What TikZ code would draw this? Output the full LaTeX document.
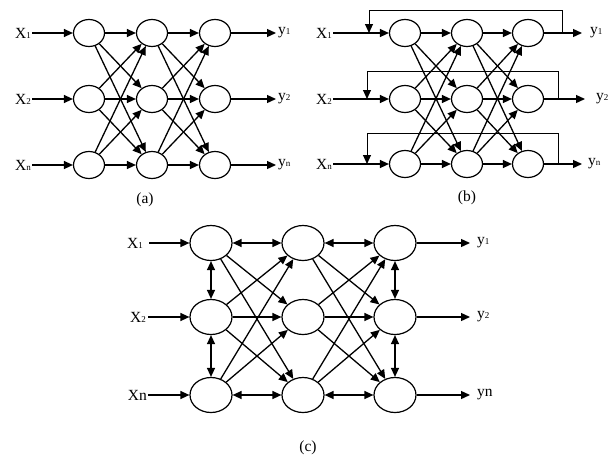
\documentclass[tikz,border=0pt]{standalone}
\usepackage{fontspec}
\setmainfont{Liberation Serif}
\usetikzlibrary{arrows.meta,shapes.geometric}

% small index digit next to a label
\newcommand{\idx}[1]{{\fontsize{9}{9}\selectfont #1}}

\begin{document}
\begin{tikzpicture}[
  x=1pt, y=-1pt,
  font=\fontsize{15.5}{17}\selectfont,
  neuron/.style    = {ellipse, draw, line width=1.2pt, fill=white, inner sep=0pt,
    minimum width=31pt, minimum height=27pt},
  bigneuron/.style = {neuron, minimum width=42pt, minimum height=35pt},
  inlbl/.style     = {anchor=east, inner sep=1pt},
  outlbl/.style    = {anchor=west, inner ysep=1pt},
  arrow/.style     = {-{Triangle[length=9pt,width=8pt]}, line width=1.3pt},
  loopback/.style  = {arrow, line width=1pt},
  twoway/.style    = {{Triangle[length=9pt,width=8pt]}-{Triangle[length=9pt,width=8pt]}, line width=1.3pt},
]
  \useasboundingbox (0,0) rectangle (616,458);

  % ---------------- (a) feed-forward
  \foreach \c/\x in {1/89,2/152,3/215}
    \foreach \r/\y in {1/33,2/99,3/165}
      \node[neuron] (a\c\r) at (\x,\y) {};
  \node[inlbl] (ax1) at (32,33)  {X\idx{1}};
  \node[inlbl] (ax2) at (32,99)  {X\idx{2}};
  \node[inlbl] (ax3) at (32,165) {X\idx{n}};
  \node[outlbl, inner xsep=2pt] (ay1) at (276,33)  {y\idx{1}};
  \node[outlbl, inner xsep=2pt] (ay2) at (276,99)  {y\idx{2}};
  \node[outlbl, inner xsep=2pt] (ay3) at (276,165) {y\idx{n}};
  \foreach \r in {1,2,3} {
    \draw[arrow] (ax\r.east) -- (a1\r.west);
    \draw[arrow] (a3\r.east) -- (ay\r.west);
  }
  \foreach \c/\n in {1/2,2/3}
    \foreach \r in {1,2,3}
      \foreach \s in {1,2,3}
        \draw[arrow] (a\c\r) -- (a\n\s);
  \node (capa) at (145,200) {(a)};

  % ---------------- (b) with feedback
  \foreach \c/\x in {1/405,2/467,3/528}
    \foreach \r/\y in {1/33,2/99,3/164}
      \node[neuron] (b\c\r) at (\x,\y) {};
  \node[inlbl] (bx1) at (333,33)  {X\idx{1}};
  \node[inlbl] (bx2) at (333,99)  {X\idx{2}};
  \node[inlbl] (bx3) at (333,164) {X\idx{n}};
  \node[outlbl, inner xsep=8pt]  (by1) at (582,33)  {y\idx{1}};
  \node[outlbl, inner xsep=11pt] (by2) at (585,99)  {y\idx{2}};
  \node[outlbl, inner xsep=6pt]  (by3) at (582,164) {y\idx{n}};
  \foreach \r in {1,2,3} {
    \draw[arrow] (bx\r.east) -- (b1\r.west);
    \draw[arrow] (b3\r.east) -- (by\r.west);
  }
  \foreach \c/\n in {1/2,2/3}
    \foreach \r in {1,2,3}
      \foreach \s in {1,2,3}
        \draw[arrow] (b\c\r) -- (b\n\s);
  \coordinate (bo1) at (562,33);  \coordinate (bi1) at (369,33);
  \coordinate (bo2) at (558,99);  \coordinate (bi2) at (367,99);
  \coordinate (bo3) at (558,164); \coordinate (bi3) at (367,164);
  \draw[loopback] (bo1) -- ++(0,-23) -| (bi1);
  \draw[loopback] (bo2) -- ++(0,-28) -| (bi2);
  \draw[loopback] (bo3) -- ++(0,-31) -| (bi3);
  \node (capb) at (467,198) {(b)};

  % ---------------- (c) lateral links
  \foreach \c/\x in {1/211,2/303,3/395}
    \foreach \r/\y in {1/243,2/317,3/395}
      \node[bigneuron] (c\c\r) at (\x,\y) {};
  \node[inlbl, inner xsep=6pt] (cx1) at (149,243) {X\idx{1}};
  \node[inlbl, inner xsep=2pt] (cx2) at (148,317) {X\idx{2}};
  \node[inlbl, inner xsep=1pt] (cx3) at (148,395) {Xn};
  \node[outlbl, inner xsep=7pt] (cy1) at (470,243) {y\idx{1}};
  \node[outlbl, inner xsep=7pt] (cy2) at (470,317) {y\idx{2}};
  \node[outlbl, inner xsep=7pt] (cy3) at (470,395) {yn};
  \foreach \r in {1,2,3} {
    \draw[arrow] (cx\r.east) -- (c1\r.west);
    \draw[arrow] (c3\r.east) -- (cy\r.west);
  }
  \foreach \c/\n in {1/2,2/3} {
    \foreach \r in {1,2,3}
      \foreach \s in {1,2,3} {
        \ifnum\r=\s\else \draw[arrow] (c\c\r) -- (c\n\s); \fi
      }
    \draw[twoway] (c\c1) -- (c\n1);
    \draw[arrow]  (c\c2) -- (c\n2);
    \draw[twoway] (c\c3) -- (c\n3);
  }
  \foreach \c in {1,3} {
    \draw[twoway] (c\c1) -- (c\c2);
    \draw[twoway] (c\c2) -- (c\c3);
  }
  \node (capc) at (308,448) {(c)};
\end{tikzpicture}
\end{document}
